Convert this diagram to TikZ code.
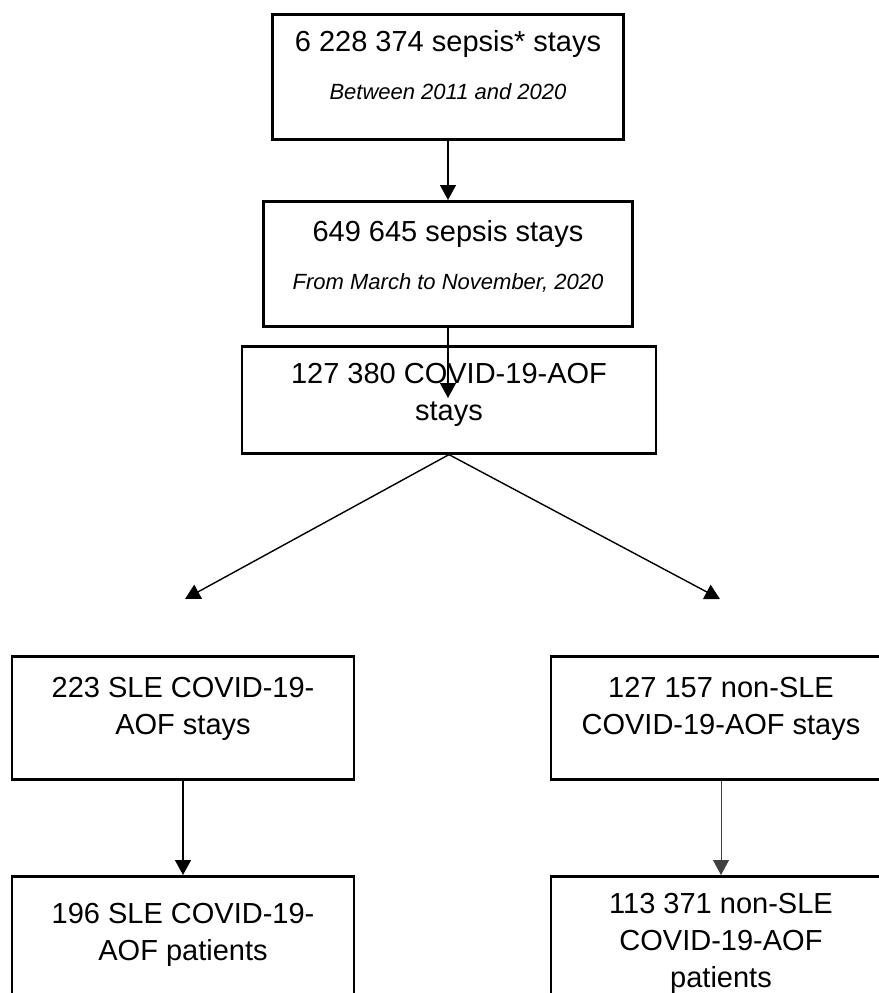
\documentclass[tikz,border=0pt]{standalone}
\usepackage{fontspec}
\setmainfont{Liberation Sans}
\usetikzlibrary{arrows.meta}
% width, height, space above the first line, text
\newcommand{\boxtext}[4]{\parbox[c][#2][t]{#1}{\centering\vspace*{#3}#4\par}}
\newcommand{\smallit}{\fontsize{22}{26}\selectfont\itshape}

\begin{document}
\begin{tikzpicture}[x=1pt, y=-1pt,
		flowbox/.style={draw, line width=2.6pt, inner sep=0pt, anchor=north, font=\fontsize{29}{37}\selectfont},
		flowarrow/.style={-{Triangle[width=16pt,length=15pt]}, line width=1.4pt}]
			%%%%% START %%%%%
			\useasboundingbox (0,0) rectangle (878,993);
			
			\node[flowbox] (all) at (448,13) {\boxtext{351pt}{125pt}{16pt}{6 228 374 sepsis* stays\par\vspace{22pt}\smallit Between 2011 and 2020}};
			\node[flowbox] (pandemic) at (448,200) {\boxtext{369pt}{125pt}{19pt}{649 645 sepsis stays\par\vspace{22pt}\smallit From March to November, 2020}};
			\node[flowbox] (covid) at (449,345) {\boxtext{414pt}{107pt}{17pt}{127 380 COVID-19-AOF\\stays}};
			
			\node[flowbox] (sle) at (183,655) {\boxtext{342pt}{123pt}{21pt}{223 SLE COVID-19-\\AOF stays}};
			\node[flowbox] (nonsle) at (721,655) {\boxtext{340pt}{123pt}{21pt}{127 157 non-SLE\\COVID-19-AOF stays}};
			
			\node[flowbox] (slepat) at (183,875) {\boxtext{342pt}{125pt}{27pt}{196 SLE COVID-19-\\AOF patients}};
			\node[flowbox] (nonslepat) at (721,875) {\boxtext{340pt}{125pt}{17pt}{113 371 non-SLE\\COVID-19-AOF\\patients}};
			
			% free ends of the arrows
			\coordinate (inside) at (448,398);
			\coordinate (leftend) at (185,599);
			\coordinate (rightend) at (720,599);
			
			\draw[flowarrow] (all) -- (pandemic);
			\draw[flowarrow] (pandemic.south) -- (inside);
			\draw[flowarrow] (covid.south) -- (leftend);
			\draw[flowarrow] (covid.south) -- (rightend);
			
			\draw[flowarrow] (sle) -- (slepat);
			\draw[flowarrow, line width=0.8pt, black!75] (nonsle) -- (nonslepat);
			%%%%% END %%%%%
		\end{tikzpicture}
\end{document}
